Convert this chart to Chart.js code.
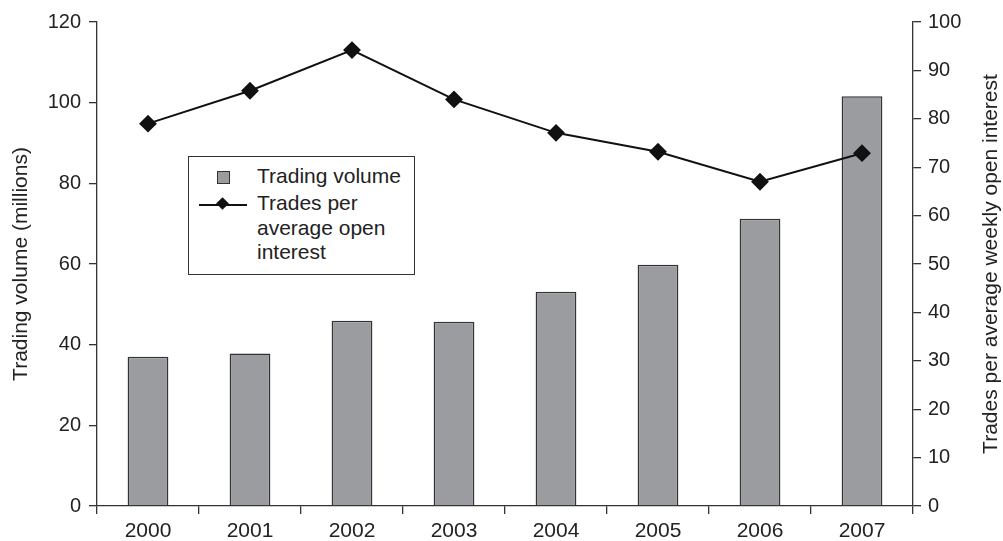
<!DOCTYPE html>
<html>
<head>
<meta charset="utf-8">
<script src="https://cdn.jsdelivr.net/npm/chart.js@4.4.1/dist/chart.umd.min.js"></script>
<style>
  html, body { margin: 0; padding: 0; background: #fff; }
  #wrap { position: relative; width: 1003px; height: 541px; }
  #legend {
    position: absolute; left: 188px; top: 156px; width: 227px; height: 119px;
    border: 1.5px solid #333; box-sizing: border-box; background: #fff;
    font-family: "Liberation Sans", Arial, sans-serif; font-size: 21px; color: #222;
  }
  #legend .txt { position: absolute; left: 68px; line-height: 24.5px; white-space: nowrap; }
  #legend .sq { position: absolute; left: 28px; top: 14px; width: 11px; height: 11px;
    background: #9b9ca0; border: 1.2px solid #333; }
  #legend .ln { position: absolute; left: 10px; top: 47px; width: 48px; height: 2px; background: #111; }
  #legend .dm { position: absolute; left: 29px; top: 42px; width: 9px; height: 9px; background: #111;
    transform: rotate(45deg); }
</style>
</head>
<body>
<div id="wrap">
  <canvas id="canvas" width="1003" height="541"></canvas>
  <div id="legend">
    <div class="sq"></div>
    <div class="txt" style="top:7px">Trading volume</div>
    <div class="ln"></div><div class="dm"></div>
    <div class="txt" style="top:34px">Trades per<br>average open<br>interest</div>
  </div>
</div>
<script>
var years = ["2000", "2001", "2002", "2003", "2004", "2005", "2006", "2007"];
var volume = [37.0, 37.8, 45.9, 45.7, 53.1, 59.8, 71.2, 101.6];
var tradesPerOI = [79.0, 85.8, 94.2, 84.0, 77.1, 73.2, 67.0, 72.9];
var leftTicks = [0, 20, 40, 60, 80, 100, 120];
var rightTicks = [0, 10, 20, 30, 40, 50, 60, 70, 80, 90, 100];

var fam = "'Liberation Sans', Arial, sans-serif";
var font20 = { family: fam, size: 20 };
var font21 = { family: fam, size: 21 };
var ink = '#222';

// right title reads bottom-to-top, chart.js would rotate it the other way
var rightTitle = {
  id: 'rightTitle',
  afterDraw: function(chart) {
    var ctx = chart.ctx, a = chart.chartArea;
    ctx.save();
    ctx.translate(991, (a.top + a.bottom) / 2);
    ctx.rotate(-Math.PI / 2);
    ctx.font = "21px " + fam;
    ctx.fillStyle = ink;
    ctx.textAlign = 'center';
    ctx.textBaseline = 'middle';
    ctx.fillText('Trades per average weekly open interest', 0, 0);
    ctx.restore();
  }
};

var ctx = document.getElementById('canvas').getContext('2d');
var chart = new Chart(ctx, {
  data: {
    labels: years,
    datasets: [
      {
        type: 'line',
        label: 'Trades per average open interest',
        data: tradesPerOI,
        yAxisID: 'y1',
        borderColor: '#111',
        borderWidth: 2,
        pointStyle: 'rectRot',
        pointRadius: 7.5,
        pointBackgroundColor: '#111',
        pointBorderColor: '#111',
        tension: 0,
        order: 1
      },
      {
        type: 'bar',
        label: 'Trading volume',
        data: volume,
        yAxisID: 'y',
        backgroundColor: '#9b9ca0',
        borderColor: '#333',
        borderWidth: 1.5,
        categoryPercentage: 1,
        barPercentage: 0.4,
        order: 2
      }
    ]
  },
  options: {
    responsive: false,
    animation: false,
    layout: { padding: { top: 22, left: 0, right: 0, bottom: 0 } },
    plugins: { legend: { display: false }, tooltip: { enabled: false } },
    scales: {
      x: {
        offset: true,
        grid: { offset: true, drawOnChartArea: false, drawTicks: true, tickLength: 8, color: '#333', lineWidth: 1.3 },
        border: { display: true, color: '#333', width: 1.3 },
        ticks: { font: font21, color: ink, padding: 5, maxRotation: 0 },
        afterFit: function(s) { s.height = 35; }
      },
      y: {
        position: 'left',
        min: 0, max: 120,
        afterBuildTicks: function(s) { s.ticks = leftTicks.map(function(v) { return { value: v }; }); },
        grid: { drawOnChartArea: false, drawTicks: true, tickLength: 8, color: '#333', lineWidth: 1.3 },
        border: { display: true, color: '#333', width: 1.3 },
        ticks: { font: font20, color: ink, padding: 8 },
        title: { display: true, text: 'Trading volume (millions)', font: font21, color: ink, padding: { top: 9, bottom: 0 } },
        afterFit: function(s) { s.width = 97; }
      },
      y1: {
        position: 'right',
        min: 0, max: 100,
        afterBuildTicks: function(s) { s.ticks = rightTicks.map(function(v) { return { value: v }; }); },
        grid: { drawOnChartArea: false, drawTicks: true, tickLength: 8, color: '#333', lineWidth: 1.3 },
        border: { display: true, color: '#333', width: 1.3 },
        ticks: { font: font20, color: ink, padding: 7 },
        afterFit: function(s) { s.width = 90; }
      }
    }
  },
  plugins: [rightTitle]
});
</script>
</body>
</html>
